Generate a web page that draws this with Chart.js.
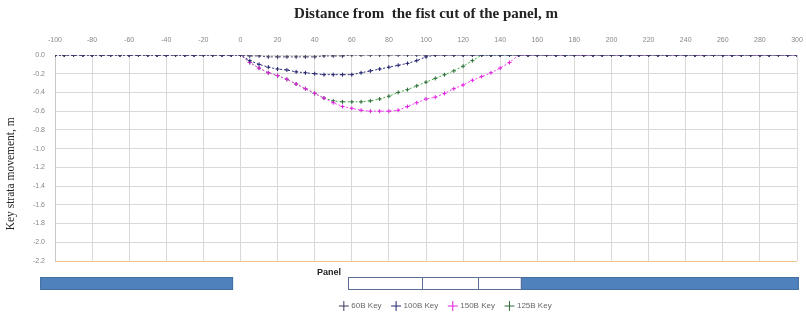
<!DOCTYPE html>
<html>
<head>
<meta charset="utf-8">
<script src="https://cdn.jsdelivr.net/npm/chart.js@4.4.0/dist/chart.umd.min.js"></script>
<style>
  html, body { margin: 0; padding: 0; background: #fff; }
  #wrap { width: 806px; height: 320px; position: relative; }
</style>
</head>
<body>
<div id="wrap"><canvas id="myChart"></canvas></div>
<script>
// distance from the first cut of the panel, m
const distance = [
  -100, -95, -90, -85, -80, -75, -70, -65, -60, -55, -50, -45, -40, -35, -30, -25, -20, -15, -10, -5,
  0, 5, 10, 15, 20, 25, 30, 35, 40, 45, 50, 55, 60, 65, 70, 75, 80, 85, 90, 95,
  100, 105, 110, 115, 120, 125, 130, 135, 140, 145, 150, 155, 160, 165, 170, 175, 180, 185, 190, 195,
  200, 205, 210, 215, 220, 225, 230, 235, 240, 245, 250, 255, 260, 265, 270, 275, 280, 285, 290, 295, 300
];

// key strata movement, m
const key60B = [
  0, 0, 0, 0, 0, 0, 0, 0, 0, 0, 0, 0, 0, 0, 0, 0, 0, 0, 0, 0,
  0, -0.01, -0.01, -0.02, -0.02, -0.02, -0.02, -0.02, -0.02, -0.01, -0.01, -0.01, 0, 0, 0, 0, 0, 0, 0, 0,
  0, 0, 0, 0, 0, 0, 0, 0, 0, 0, 0, 0, 0, 0, 0, 0, 0, 0, 0, 0,
  0, 0, 0, 0, 0, 0, 0, 0, 0, 0, 0, 0, 0, 0, 0, 0, 0, 0, 0, 0, 0
];
const key100B = [
  0, 0, 0, 0, 0, 0, 0, 0, 0, 0, 0, 0, 0, 0, 0, 0, 0, 0, 0, 0,
  0, -0.06, -0.1, -0.13, -0.15, -0.16, -0.18, -0.19, -0.2, -0.21, -0.21, -0.21, -0.21, -0.19, -0.17, -0.15, -0.13, -0.11, -0.09, -0.06,
  -0.02, 0, 0, 0, 0, 0, 0, 0, 0, 0, 0, 0, 0, 0, 0, 0, 0, 0, 0, 0,
  0, 0, 0, 0, 0, 0, 0, 0, 0, 0, 0, 0, 0, 0, 0, 0, 0, 0, 0, 0, 0
];
const key150B = [
  0, 0, 0, 0, 0, 0, 0, 0, 0, 0, 0, 0, 0, 0, 0, 0, 0, 0, 0, 0,
  0, -0.08, -0.14, -0.19, -0.22, -0.26, -0.31, -0.36, -0.41, -0.46, -0.51, -0.55, -0.57, -0.59, -0.6, -0.6, -0.6, -0.59, -0.55, -0.51,
  -0.47, -0.45, -0.41, -0.36, -0.32, -0.27, -0.23, -0.19, -0.14, -0.08, 0, 0, 0, 0, 0, 0, 0, 0, 0, 0,
  0, 0, 0, 0, 0, 0, 0, 0, 0, 0, 0, 0, 0, 0, 0, 0, 0, 0, 0, 0, 0
];
const key125B = [
  0, 0, 0, 0, 0, 0, 0, 0, 0, 0, 0, 0, 0, 0, 0, 0, 0, 0, 0, 0,
  0, -0.08, -0.14, -0.19, -0.22, -0.26, -0.31, -0.36, -0.41, -0.46, -0.49, -0.5, -0.5, -0.5, -0.49, -0.47, -0.44, -0.4, -0.37, -0.33,
  -0.29, -0.25, -0.21, -0.17, -0.12, -0.06, 0, 0, 0, 0, 0, 0, 0, 0, 0, 0, 0, 0, 0, 0,
  0, 0, 0, 0, 0, 0, 0, 0, 0, 0, 0, 0, 0, 0, 0, 0, 0, 0, 0, 0, 0
];

const seriesNames = ['60B Key', '100B Key', '150B Key', '125B Key'];

// panel sketch under the plot: [from, to] in metres
const goafBlocks = [[-108, -4], [151, 301]];
const panelCuts = [[58, 98], [98, 128], [128, 151]];

const toPoints = (ys) => ys.map((y, i) => ({ x: distance[i], y: y }));

function lineSet(label, ys, color, markColor) {
  return {
    label: label,
    data: toPoints(ys),
    borderColor: color,
    backgroundColor: color,
    borderWidth: 1,
    borderDash: [2, 2],
    pointStyle: 'cross',
    pointRadius: 2,
    pointBorderWidth: 1,
    pointBorderColor: markColor,
    tension: 0
  };
}

const panelSketch = {
  id: 'panelSketch',
  afterLayout(chart) {
    // legend sits a bit right of centre in the original
    chart.legend.left += 20;
    chart.legend.right += 20;
  },
  afterDraw(chart) {
    const ctx = chart.ctx;
    const xs = chart.scales.x;
    const top = chart.chartArea.bottom + 16;
    const h = 13;
    ctx.save();
    goafBlocks.forEach(([a, b]) => {
      const x0 = xs.getPixelForValue(a), x1 = xs.getPixelForValue(b);
      ctx.fillStyle = '#4f81bd';
      ctx.fillRect(x0, top, x1 - x0, h);
      ctx.strokeStyle = '#41709f';
      ctx.lineWidth = 1;
      ctx.strokeRect(x0 + 0.5, top + 0.5, x1 - x0 - 1, h - 1);
    });
    panelCuts.forEach(([a, b]) => {
      const x0 = xs.getPixelForValue(a), x1 = xs.getPixelForValue(b);
      ctx.fillStyle = '#ffffff';
      ctx.fillRect(x0, top, x1 - x0, h);
      ctx.strokeStyle = '#5a6e96';
      ctx.lineWidth = 1;
      ctx.strokeRect(Math.round(x0) + 0.5, top + 0.5, Math.round(x1 - x0), h - 1);
    });
    const px = xs.getPixelForValue(panelCuts[0][0]);
    ctx.fillStyle = '#222';
    ctx.font = 'bold 9px "Liberation Sans"';
    ctx.textAlign = 'right';
    ctx.textBaseline = 'middle';
    ctx.fillText('Panel', px - 7, top - 4);
    ctx.restore();
  }
};

const config = {
  type: 'line',
  data: {
    datasets: [
      lineSet(seriesNames[0], key60B, '#46466e', '#3a3a5e'),
      lineSet(seriesNames[1], key100B, '#2b2b85', '#24246e'),
      lineSet(seriesNames[2], key150B, '#ff3cff', '#e020e0'),
      lineSet(seriesNames[3], key125B, '#3cb43c', '#2f6a3a')
    ]
  },
  options: {
    responsive: true,
    maintainAspectRatio: false,
    animation: false,
    layout: { padding: { left: 0, right: 9, top: 0, bottom: 0 } },
    plugins: {
      title: {
        display: true,
        text: 'Distance from  the fist cut of the panel, m',
        fullSize: false,
        color: '#222',
        font: { family: 'Liberation Serif', size: 15, weight: 'bold' },
        padding: { top: 5, bottom: 6 }
      },
      legend: {
        position: 'bottom',
        fullSize: false,
        labels: {
          usePointStyle: true,
          boxWidth: 7,
          boxHeight: 7,
          padding: 11,
          color: '#666',
          font: { family: 'Liberation Sans', size: 8 }
        }
      },
      tooltip: { enabled: false }
    },
    scales: {
      x: {
        type: 'linear',
        position: 'top',
        min: -100,
        max: 300,
        afterFit: (s) => { s.height = 26; s.paddingLeft = 0; s.paddingRight = 0; },
        ticks: {
          stepSize: 20,
          padding: 11,
          color: '#888',
          font: { family: 'Liberation Sans', size: 7 }
        },
        grid: { color: '#d9d9d9', drawTicks: false },
        border: { display: false }
      },
      x2: {
        type: 'linear',
        position: 'bottom',
        min: -100,
        max: 300,
        afterFit: (s) => { s.height = 30; s.paddingLeft = 0; s.paddingRight = 0; },
        ticks: { display: false },
        grid: { display: false },
        border: { display: false }
      },
      y: {
        min: -2.2,
        max: 0,
        afterFit: (s) => { s.width = 55; },
        ticks: {
          stepSize: 0.2,
          padding: 10,
          color: '#888',
          font: { family: 'Liberation Sans', size: 7 },
          callback: (v) => Number(v).toFixed(1)
        },
        grid: {
          drawTicks: false,
          color: (c) => (c.tick && Math.abs(c.tick.value + 2.2) < 1e-6) ? '#f3c58e' : '#d9d9d9'
        },
        border: { display: true, color: '#c8c8c8' },
        title: {
          display: true,
          text: 'Key strata movement, m           ',
          color: '#222',
          font: { family: 'Liberation Serif', size: 11.5 },
          padding: { top: 4, bottom: 0 }
        }
      }
    }
  },
  plugins: [panelSketch]
};

new Chart(document.getElementById('myChart'), config);
</script>
</body>
</html>
